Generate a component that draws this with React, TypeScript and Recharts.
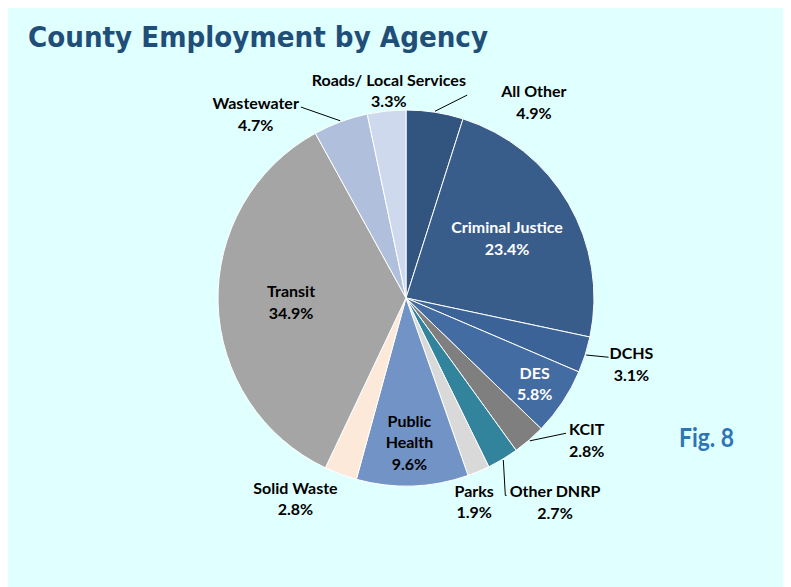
import React from "react";
import { PieChart, Pie, Cell } from "recharts";

// agency shares (percent of county employment), clockwise from 12 o'clock
const CATEGORIES = [
  "All Other",
  "Criminal Justice",
  "DCHS",
  "DES",
  "KCIT",
  "Other DNRP",
  "Parks",
  "Public Health",
  "Solid Waste",
  "Transit",
  "Wastewater",
  "Roads/ Local Services",
];
const SHARES = [4.9, 23.4, 3.1, 5.8, 2.8, 2.7, 1.9, 9.6, 2.8, 34.9, 4.7, 3.3];

const COLORS = [
  "#32557f",
  "#395d8a",
  "#3c6398",
  "#436ca2",
  "#7f7f7f",
  "#31849b",
  "#d9d9d9",
  "#7293c5",
  "#fce9da",
  "#a5a5a5",
  "#b0c0dc",
  "#cfd9ed",
];

// label placement (distance from centre, angle nudge from slice middle)
const LABEL_DIST = [234, 117.5, 235, 154.5, 230, 253, 215, 144.6, 229, 115, 237.6, 207.8];
const LABEL_SHIFT = [24.3, -0.5, -1.2, 0, -10.9, -5.1, 4.2, 0.6, 8.5, -0.5, -18.9, 1.2];
const LEADER = ["line", "none", "line", "none", "line", "elbow", "none", "none", "none", "none", "line", "none"];
const LEADER_GAP = [34, 0, 1, 0, 3, 3, 0, 0, 0, 0, 2, 0];
const WHITE_TEXT = [1, 3];
const WRAP: Record<string, string[]> = { "Public Health": ["Public", "Health"] };

const data = CATEGORIES.map((name, i) => ({ name, value: SHARES[i] }));

const RAD = Math.PI / 180;
const LABEL_FONT = "bold 16px Lato";

let ctx: CanvasRenderingContext2D | null = null;
const measure = (s: string) => {
  if (!ctx) ctx = document.createElement("canvas").getContext("2d");
  if (!ctx) return s.length * 7;
  ctx.font = LABEL_FONT;
  return ctx.measureText(s).width;
};

const renderLabel = (props: any) => {
  const { cx, cy, midAngle, outerRadius, index } = props;
  const mid = (90 - midAngle) * RAD;
  const a = mid + LABEL_SHIFT[index] * RAD;
  const d = LABEL_DIST[index];
  const x = cx + d * Math.sin(a);
  const y = cy - d * Math.cos(a);
  const name = CATEGORIES[index];
  const lines = [...(WRAP[name] ?? [name]), `${SHARES[index].toFixed(1)}%`];
  const lh = 21.5;
  const top = y - (lines.length * lh) / 2;
  const base0 = top + lh - 5;
  const fill = WHITE_TEXT.includes(index) ? "#ffffff" : "#000000";

  let leader = null;
  if (LEADER[index] !== "none") {
    const sx = cx + (outerRadius + 1) * Math.sin(mid);
    const sy = cy - (outerRadius + 1) * Math.cos(mid);
    const w = measure(lines[0]);
    const ex = x > cx ? x - w / 2 - LEADER_GAP[index] : x + w / 2 + LEADER_GAP[index];
    const ey = base0 - 2;
    const pts =
      LEADER[index] === "elbow"
        ? `${sx},${sy} ${sx + 2},${ey} ${ex},${ey}`
        : `${sx},${sy} ${ex},${ey}`;
    leader = <polyline points={pts} fill="none" stroke="#000" strokeWidth={1} />;
  }

  return (
    <g key={`lbl-${index}`}>
      {leader}
      {lines.map((t, i) => (
        <text
          key={i}
          x={x}
          y={base0 + i * lh}
          textAnchor="middle"
          fill={fill}
          style={{ font: LABEL_FONT }}
        >
          {t}
        </text>
      ))}
    </g>
  );
};

export default function App() {
  return (
    <div
      style={{
        position: "relative",
        marginLeft: -1,
        width: 784,
        height: 579,
        background: "#e0ffff",
      }}
    >
      <PieChart width={784} height={579} margin={{ top: 0, right: 0, bottom: 0, left: 0 }}>
        <Pie
          data={data}
          dataKey="value"
          nameKey="name"
          cx={399}
          cy={290}
          outerRadius={188}
          startAngle={90}
          endAngle={-270}
          stroke="#ffffff"
          strokeWidth={1}
          labelLine={false}
          label={renderLabel}
          isAnimationActive={false}
        >
          {data.map((_, i) => (
            <Cell key={i} fill={COLORS[i]} />
          ))}
        </Pie>
      </PieChart>
      <svg
        width={784}
        height={579}
        style={{ position: "absolute", left: 0, top: 0, pointerEvents: "none" }}
      >
        <text
          x={21}
          y={39}
          fill="#1f4e79"
          textLength={460}
          lengthAdjust="spacingAndGlyphs"
          style={{ font: "bold 29px 'DejaVu Sans'" }}
        >
          County Employment by Agency
        </text>
        <text
          x={672}
          y={439}
          fill="#2e75b6"
          textLength={55}
          lengthAdjust="spacingAndGlyphs"
          style={{ font: "bold 26px Lato" }}
        >
          Fig. 8
        </text>
      </svg>
    </div>
  );
}
